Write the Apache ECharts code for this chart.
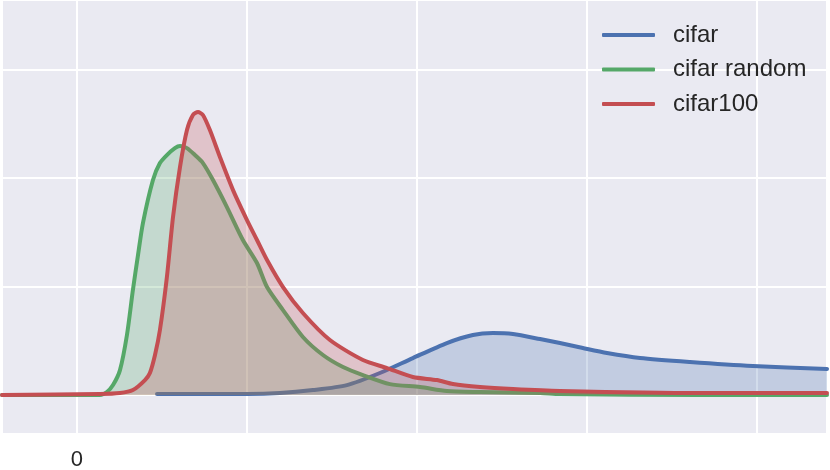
<!DOCTYPE html>
<html>
<head>
<meta charset="utf-8">
<script src="https://cdn.jsdelivr.net/npm/echarts@6/dist/echarts.min.js"></script>
<style>html,body{margin:0;padding:0;background:#fff}#c{width:830px;height:470px}</style>
</head>
<body>
<div id="c"></div>
<script>
const seriesNames = ['cifar', 'cifar random', 'cifar100'];
const xTickLabels = ['0'];

const cifar = [[0.471,0.009],[1.0,0.009],[1.194,0.018],[1.388,0.046],[1.588,0.092],[1.782,0.203],[1.976,0.341],[2.176,0.479],[2.329,0.553],[2.447,0.571],[2.565,0.562],[2.724,0.516],[2.841,0.479],[2.976,0.433],[3.118,0.387],[3.312,0.341],[3.606,0.304],[3.976,0.267],[4.412,0.240]];

const cifarRandom = [[-0.441,0],[0.135,0],[0.176,0.028],[0.212,0.092],[0.253,0.230],[0.294,0.553],[0.329,0.968],[0.359,1.290],[0.388,1.585],[0.447,1.982],[0.488,2.138],[0.529,2.212],[0.576,2.276],[0.606,2.295],[0.647,2.276],[0.694,2.212],[0.741,2.138],[0.8,1.982],[0.882,1.733],[0.976,1.429],[1.059,1.217],[1.118,0.995],[1.212,0.783],[1.329,0.535],[1.447,0.369],[1.565,0.258],[1.682,0.184],[1.841,0.101],[2.018,0.074],[2.176,0.037],[2.371,0.028],[2.724,0.018],[2.841,0.009],[3.665,0],[4.412,0]];

const cifar100 = [[-0.441,0],[0.135,0.009],[0.253,0.018],[0.329,0.046],[0.4,0.138],[0.429,0.203],[0.459,0.369],[0.488,0.599],[0.529,1.088],[0.565,1.641],[0.606,2.101],[0.647,2.442],[0.682,2.581],[0.712,2.608],[0.741,2.581],[0.782,2.442],[0.841,2.194],[0.918,1.889],[1.0,1.613],[1.059,1.429],[1.118,1.244],[1.212,0.995],[1.329,0.756],[1.488,0.507],[1.682,0.323],[1.824,0.249],[1.976,0.166],[2.118,0.138],[2.212,0.101],[2.371,0.074],[2.565,0.055],[2.841,0.037],[3.665,0.018],[4.412,0.018]];

const colors = ['#4C72B0', '#55A868', '#C44E52'];
const datasets = [cifar, cifarRandom, cifar100];

const chart = echarts.init(document.getElementById('c'), null, {renderer: 'canvas'});
chart.setOption({
  animation: false,
  backgroundColor: '#ffffff',
  textStyle: {fontFamily: 'Liberation Sans, Arial, sans-serif'},
  grid: {left: 2, right: 3, top: 0, bottom: 36, show: true, backgroundColor: '#EAEAF2', borderWidth: 0, containLabel: false, outerBoundsMode: 'none'},
  legend: {
    orient: 'vertical', left: 597, top: 18,
    itemWidth: 53, itemHeight: 4, itemGap: 10.5,
    icon: 'roundRect',
    textStyle: {fontSize: 24, color: '#262626', lineHeight: 24, padding: [0, 0, 0, 13], fontFamily: 'Liberation Sans, Arial, sans-serif'},
    data: seriesNames
  },
  xAxis: {
    type: 'value', min: -0.441, max: 4.412, minInterval: 1, maxInterval: 1,
    axisLine: {show: false}, axisTick: {show: false},
    splitLine: {show: true, lineStyle: {color: '#ffffff', width: 2}},
    axisLabel: {margin: 15, fontSize: 22, color: '#262626', formatter: v => (Math.abs(v) < 1e-9 ? xTickLabels[0] : '')}
  },
  yAxis: {
    type: 'value', min: -0.359, max: 3.641, minInterval: 1, maxInterval: 1,
    axisLine: {show: false}, axisTick: {show: false}, axisLabel: {show: false},
    splitLine: {show: true, lineStyle: {color: '#ffffff', width: 2}}
  },
  series: datasets.map((d, i) => ({
    name: seriesNames[i], type: 'line', data: d, showSymbol: false, symbol: 'none',
    smooth: 0.25,
    lineStyle: {color: colors[i], width: 4, cap: 'round', join: 'round'},
    itemStyle: {color: colors[i]},
    areaStyle: {color: colors[i], opacity: 0.25, origin: 0},
    z: 2 + i
  }))
});
</script>
</body>
</html>
